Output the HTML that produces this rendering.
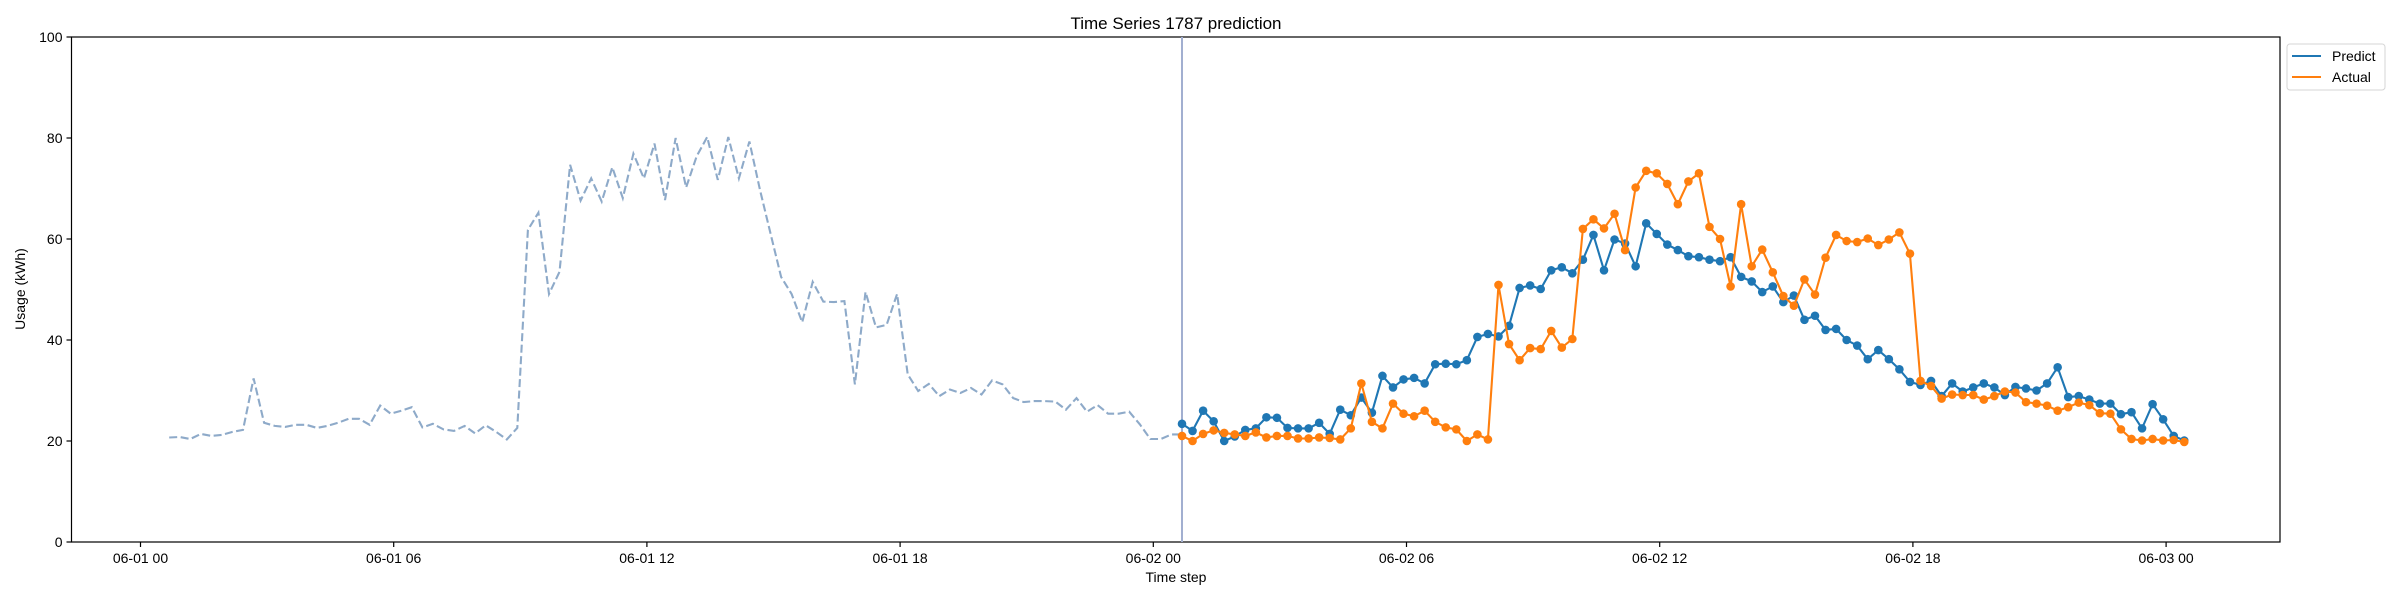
<!DOCTYPE html>
<html><head><meta charset="utf-8"><style>
html,body{margin:0;padding:0;background:#fff;}
svg{display:block;font-family:"Liberation Sans","DejaVu Sans",sans-serif;}
</style></head><body>
<svg id="chart" width="2400" height="600" viewBox="0 0 2400 600">
<rect x="0" y="0" width="2400" height="600" fill="#fff"/>
<g id="plot"></g>
<text x="1176" y="29" text-anchor="middle" font-size="17" fill="#000">Time Series 1787 prediction</text>
<text x="1176" y="582" text-anchor="middle" font-size="14" fill="#000">Time step</text>
<text transform="translate(25,289) rotate(-90)" text-anchor="middle" font-size="14" fill="#000">Usage (kWh)</text>
<g>
<rect x="2287" y="44" width="98" height="46" rx="3" fill="#fff" stroke="#d6d6d6" stroke-width="1"/>
<line x1="2292" y1="56" x2="2321" y2="56" stroke="#1f77b4" stroke-width="2.1"/>
<text x="2332" y="61" font-size="14" fill="#000">Predict</text>
<line x1="2292" y1="77" x2="2321" y2="77" stroke="#ff7f0e" stroke-width="2.1"/>
<text x="2332" y="82" font-size="14" fill="#000">Actual</text>
</g>
</svg>
<script>
const historyValues = [20.7,20.8,20.4,21.4,21.0,21.2,21.8,22.2,32.4,23.6,23.0,22.8,23.2,23.2,22.6,23.0,23.6,24.4,24.4,23.2,27.0,25.4,26.0,26.7,22.7,23.4,22.3,22.0,23.0,21.5,23.1,21.8,20.3,22.6,61.8,65.2,49.1,53.5,74.7,67.6,72.0,67.4,74.2,68.1,76.9,72.0,78.9,67.7,80.0,70.2,76.4,80.2,71.7,80.2,72.0,79.3,69.7,61.1,52.5,49.1,43.5,51.5,47.6,47.5,47.7,31.2,49.5,42.5,43.0,49.1,33.2,29.9,31.3,28.9,30.2,29.5,30.5,29.2,32.0,31.2,28.5,27.7,27.9,27.9,27.8,26.2,28.5,25.8,27.1,25.4,25.4,25.8,23.3,20.4,20.4,21.3,21.3];
const predictValues = [23.4,22.0,26.0,23.9,20.0,20.9,22.2,22.5,24.7,24.6,22.6,22.5,22.5,23.6,21.4,26.2,25.1,28.6,25.6,32.9,30.6,32.2,32.5,31.4,35.2,35.3,35.2,36.0,40.6,41.2,40.7,42.8,50.3,50.8,50.1,53.8,54.4,53.2,55.9,60.8,53.8,59.9,59.1,54.6,63.1,61.0,58.9,57.8,56.6,56.4,55.9,55.6,56.4,52.5,51.6,49.5,50.6,47.5,48.8,44.0,44.8,42.0,42.2,40.0,38.9,36.2,38.0,36.2,34.2,31.7,31.1,31.9,28.9,31.4,29.8,30.6,31.4,30.6,29.1,30.7,30.4,30.0,31.4,34.6,28.7,28.9,28.2,27.4,27.4,25.3,25.7,22.5,27.3,24.3,21.0,20.1];
const actualValues = [21.0,20.0,21.4,22.1,21.6,21.3,21.0,21.7,20.7,21.0,21.0,20.5,20.5,20.7,20.6,20.3,22.5,31.4,23.8,22.5,27.4,25.4,24.9,26.0,23.8,22.7,22.3,20.0,21.3,20.3,50.9,39.2,36.0,38.4,38.2,41.8,38.5,40.2,62.0,63.9,62.1,65.0,57.8,70.2,73.5,73.0,70.9,66.9,71.4,73.0,62.4,60.0,50.6,66.9,54.6,57.9,53.4,48.7,46.8,52.0,49.0,56.3,60.8,59.6,59.4,60.1,58.8,59.9,61.3,57.1,31.9,30.9,28.4,29.2,29.1,29.1,28.2,28.9,29.8,29.6,27.7,27.4,27.0,26.0,26.7,27.6,27.1,25.5,25.4,22.3,20.4,20.1,20.4,20.1,20.2,19.8];
const xTickHours = [0,6,12,18,24,30,36,42,48];
const xTickLabels = ["06-01 00","06-01 06","06-01 12","06-01 18","06-02 00","06-02 06","06-02 12","06-02 18","06-03 00"];
const yTicks = [0,20,40,60,80,100];
const historyStartHour = 0.68;
const predictStartHour = 24.68;
const stepHours = 0.25;

const L=71.5,R=2280,T=37,B=542;
function xs(h){return 140.5+42.2*h;}
function ys(v){return B-(v/100)*(B-T);}
const NS="http://www.w3.org/2000/svg";
const plot=document.getElementById('plot');
function mk(tag,attrs,parent){const e=document.createElementNS(NS,tag);for(const k in attrs)e.setAttribute(k,attrs[k]);(parent||plot).appendChild(e);return e;}

// axes frame
const frame=mk('rect',{x:L,y:T,width:R-L,height:B-T,fill:'none',stroke:'#000','stroke-width':1.2});



// y ticks
yTicks.forEach(v=>{
  const y=ys(v);
  const t=mk('line',{x1:L-5,y1:y,x2:L,y2:y,stroke:'#000','stroke-width':1.2});
  
  
  const lb=mk('text',{x:L-9,y:y+5,'text-anchor':'end','font-size':14,fill:'#000'});
  lb.textContent=v;
  
  
});
// x ticks
xTickHours.forEach((h,i)=>{
  const x=xs(h);
  const t=mk('line',{x1:x,y1:B,x2:x,y2:B+5,stroke:'#000','stroke-width':1.2});
  
  
  const lb=mk('text',{x:x,y:B+21,'text-anchor':'middle','font-size':14,fill:'#000'});
  lb.textContent=xTickLabels[i];
  
  
});

// history dashed
const hp=historyValues.map((v,i)=>xs(historyStartHour+i*stepHours).toFixed(1)+','+ys(v).toFixed(1)).join(' ');
const hl=mk('polyline',{points:hp,fill:'none',stroke:'#8eaac9','stroke-width':2.1,'stroke-dasharray':'8,3.5'});



// forecast start vline
const vx=xs(predictStartHour);
const vl=mk('line',{x1:vx,y1:T,x2:vx,y2:B,stroke:'#a2afd0','stroke-width':2});



function series(vals,color,name){
  const pts=vals.map((v,i)=>xs(predictStartHour+i*stepHours).toFixed(1)+','+ys(v).toFixed(1)).join(' ');
  const pl=mk('polyline',{points:pts,fill:'none',stroke:color,'stroke-width':2.1});
  
  
  vals.forEach((v,i)=>{
    const c=mk('circle',{cx:xs(predictStartHour+i*stepHours),cy:ys(v),r:4.3,fill:color});
    
    
  });
}
series(predictValues,'#1f77b4','predict');
series(actualValues,'#ff7f0e','actual');
</script>
</body></html>
